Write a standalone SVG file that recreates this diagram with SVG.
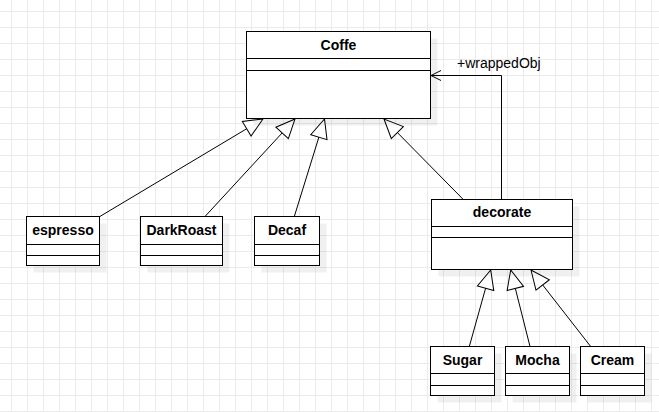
<svg xmlns="http://www.w3.org/2000/svg" width="659" height="412" viewBox="0 0 659 412">
<style>
.box{fill:#fff;stroke:#000;stroke-width:1}
.sh{fill:#000;fill-opacity:0.06}
.ln{stroke:#000;stroke-width:1;fill:none}
.t{font-family:"Liberation Sans",Arial,sans-serif;font-size:14px;font-weight:bold;text-anchor:middle;fill:#000}
.lbl{font-family:"Liberation Sans",Arial,sans-serif;font-size:14px;fill:#000}
</style>
<defs>
<pattern id="grid" patternUnits="userSpaceOnUse" x="11" y="11" width="16" height="16">
<path d="M0.5 0 V16 M0 0.5 H16" stroke="#ebebeb" stroke-width="1" fill="none"/>
</pattern>
<marker id="gen" markerUnits="userSpaceOnUse" viewBox="-22 -11 24 22" markerWidth="24" markerHeight="22" refX="0" refY="0" orient="auto">
<path d="M0,0 L-19,-8.5 L-19,8.5 Z" fill="#fff" stroke="#000" stroke-width="1"/>
</marker>
<marker id="open" markerUnits="userSpaceOnUse" viewBox="-12 -7 14 14" markerWidth="14" markerHeight="14" refX="0" refY="0" orient="auto">
<path d="M-10,-5 L0,0 L-10,5" fill="none" stroke="#000" stroke-width="1"/>
</marker>
</defs>
<rect width="659" height="412" fill="#fff"/>
<rect width="659" height="412" fill="url(#grid)"/>

<g id="connectors">
<line class="ln" x1="99" y1="217" x2="263" y2="119" marker-end="url(#gen)"/>
<line class="ln" x1="205" y1="216.5" x2="295" y2="119" marker-end="url(#gen)"/>
<line class="ln" x1="294.3" y1="216.5" x2="324.5" y2="119" marker-end="url(#gen)"/>
<line class="ln" x1="463.3" y1="199.5" x2="384" y2="119" marker-end="url(#gen)"/>
<line class="ln" x1="469.3" y1="346.5" x2="490.7" y2="270" marker-end="url(#gen)"/>
<line class="ln" x1="530" y1="346.5" x2="510.7" y2="270" marker-end="url(#gen)"/>
<line class="ln" x1="590.7" y1="346.5" x2="531" y2="270" marker-end="url(#gen)"/>
<path class="ln" d="M501.5 199.5 V75.5 H431" marker-end="url(#open)"/>
<text class="lbl" x="457" y="67.5">+wrappedObj</text>
</g>

<g id="Coffe">
<rect class="sh" x="253.5" y="38.5" width="184" height="87"/>
<rect class="box" x="246.5" y="31.5" width="184" height="87"/>
<line class="ln" x1="246.5" y1="58.5" x2="430.5" y2="58.5"/>
<line class="ln" x1="246.5" y1="70.5" x2="430.5" y2="70.5"/>
<text class="t" x="338.5" y="50">Coffe</text>
</g>

<g id="decorate">
<rect class="sh" x="438.5" y="206.5" width="141" height="70"/>
<rect class="box" x="431.5" y="199.5" width="141" height="70"/>
<line class="ln" x1="431.5" y1="226.5" x2="572.5" y2="226.5"/>
<line class="ln" x1="431.5" y1="237.5" x2="572.5" y2="237.5"/>
<text class="t" x="502" y="217">decorate</text>
</g>

<g id="espresso">
<rect class="sh" x="33.5" y="223.5" width="73" height="49"/>
<rect class="box" x="26.5" y="216.5" width="73" height="49"/>
<line class="ln" x1="26.5" y1="244.5" x2="99.5" y2="244.5"/>
<line class="ln" x1="26.5" y1="255.5" x2="99.5" y2="255.5"/>
<text class="t" x="63" y="235">espresso</text>
</g>

<g id="DarkRoast">
<rect class="sh" x="147.5" y="223.5" width="82" height="49"/>
<rect class="box" x="140.5" y="216.5" width="82" height="49"/>
<line class="ln" x1="140.5" y1="244.5" x2="222.5" y2="244.5"/>
<line class="ln" x1="140.5" y1="255.5" x2="222.5" y2="255.5"/>
<text class="t" x="181.5" y="235">DarkRoast</text>
</g>

<g id="Decaf">
<rect class="sh" x="261.5" y="223.5" width="65" height="49"/>
<rect class="box" x="254.5" y="216.5" width="65" height="49"/>
<line class="ln" x1="254.5" y1="244.5" x2="319.5" y2="244.5"/>
<line class="ln" x1="254.5" y1="255.5" x2="319.5" y2="255.5"/>
<text class="t" x="287" y="235">Decaf</text>
</g>

<g id="Sugar">
<rect class="sh" x="437.5" y="353.5" width="64" height="49"/>
<rect class="box" x="430.5" y="346.5" width="64" height="49"/>
<line class="ln" x1="430.5" y1="373.5" x2="494.5" y2="373.5"/>
<line class="ln" x1="430.5" y1="385.5" x2="494.5" y2="385.5"/>
<text class="t" x="462.5" y="364.5">Sugar</text>
</g>

<g id="Mocha">
<rect class="sh" x="512.5" y="353.5" width="64" height="49"/>
<rect class="box" x="505.5" y="346.5" width="64" height="49"/>
<line class="ln" x1="505.5" y1="373.5" x2="569.5" y2="373.5"/>
<line class="ln" x1="505.5" y1="385.5" x2="569.5" y2="385.5"/>
<text class="t" x="537.5" y="364.5">Mocha</text>
</g>

<g id="Cream">
<rect class="sh" x="587.5" y="353.5" width="64" height="49"/>
<rect class="box" x="580.5" y="346.5" width="64" height="49"/>
<line class="ln" x1="580.5" y1="373.5" x2="644.5" y2="373.5"/>
<line class="ln" x1="580.5" y1="385.5" x2="644.5" y2="385.5"/>
<text class="t" x="612.5" y="364.5">Cream</text>
</g>
</svg>
